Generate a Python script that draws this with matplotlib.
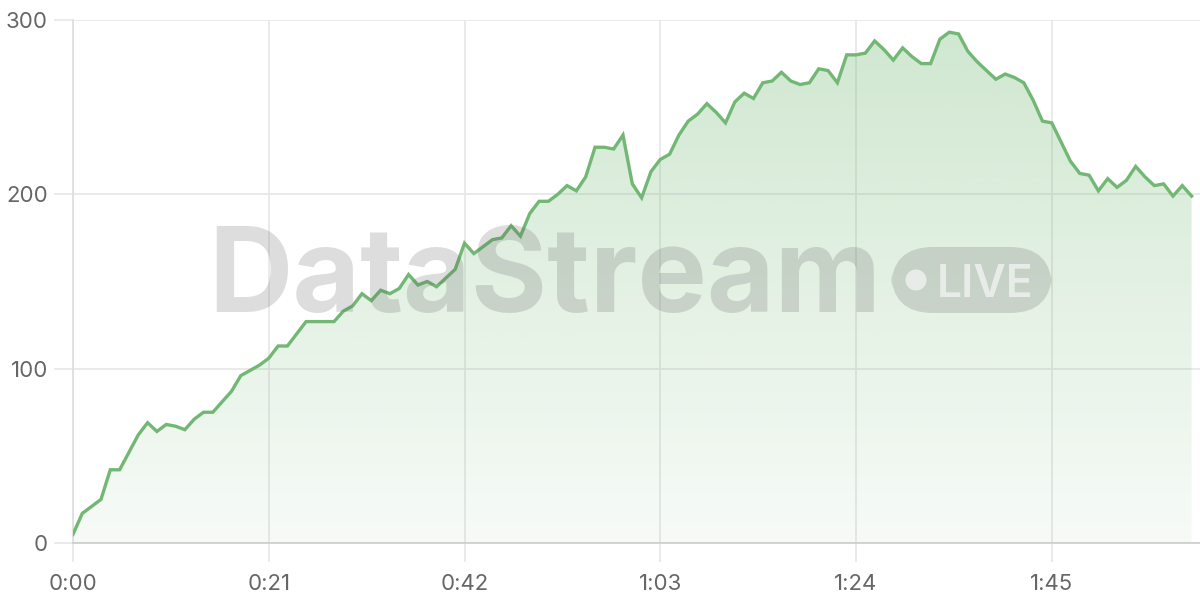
import numpy as np
import matplotlib
matplotlib.use('Agg')
import matplotlib.pyplot as plt
from matplotlib.patches import FancyBboxPatch, Ellipse
from matplotlib.ticker import FuncFormatter, FixedLocator

plt.rcParams['font.family'] = ['Inter', 'DejaVu Sans']

# seconds since start, one sample per second
seconds = np.arange(0, 121)
values = [
    5, 17, 21, 25, 42, 42, 52, 62, 69, 64,
    68, 67, 65, 71, 75, 75, 81, 87, 96, 99,
    102, 106, 113, 113, 120, 127, 127, 127, 127, 133,
    136, 143, 139, 145, 143, 146, 154, 148, 150, 147,
    152, 157, 172, 166, 170, 174, 175, 182, 176, 189,
    196, 196, 200, 205, 202, 210, 227, 227, 226, 234,
    206, 198, 213, 220, 223, 234, 242, 246, 252, 247,
    241, 253, 258, 255, 264, 265, 270, 265, 263, 264,
    272, 271, 264, 280, 280, 281, 288, 283, 277, 284,
    279, 275, 275, 289, 293, 292, 282, 276, 271, 266,
    269, 267, 264, 254, 242, 241, 230, 219, 212, 211,
    202, 209, 204, 208, 216, 210, 205, 206, 199, 205,
    199,
]
xticks = [0, 21, 42, 63, 84, 105]
yticks = [0, 100, 200, 300]

line_color = '#72b874'
grid_color = '#e6e6e6'
text_color = '#666666'

fig = plt.figure(figsize=(12, 6), dpi=100)
ax = fig.add_axes([73/1200, 57/600, 1127/1200, 523/600])
ax.set_xlim(0, 120.9)
ax.set_ylim(0, 300)

# gradient fill under the line
poly = ax.fill_between(seconds, values, 0, color='none', lw=0)
grad = np.linspace(0.06, 0.34, 256).reshape(-1, 1)
rgba = np.zeros((256, 1, 4))
rgba[..., 0] = 114/255
rgba[..., 1] = 184/255
rgba[..., 2] = 116/255
rgba[..., 3] = grad
img = ax.imshow(rgba, extent=[0, 120, 0, 300], origin='lower', aspect='auto', zorder=1)
img.set_clip_path(poly.get_paths()[0], transform=ax.transData)

ax.plot(seconds, values, color=line_color, lw=2.4, zorder=3, solid_joinstyle='miter')

ax.xaxis.set_major_locator(FixedLocator(xticks))
ax.yaxis.set_major_locator(FixedLocator(yticks))
ax.xaxis.set_major_formatter(FuncFormatter(lambda v, p: f'{int(v)//60}:{int(v)%60:02d}'))
ax.grid(True, color=grid_color, lw=1.2, zorder=0)
ax.set_axisbelow(True)
ax.tick_params(axis='both', length=14, width=1.2, color=grid_color, labelsize=16, labelcolor=text_color)
ax.tick_params(axis='x', pad=8)
ax.tick_params(axis='y', pad=4)
for s in ['top', 'right']:
    ax.spines[s].set_visible(False)
ax.spines['left'].set_color('#dddddd')
ax.spines['bottom'].set_color('#cccccc')
ax.spines['left'].set_linewidth(1.2)
ax.spines['bottom'].set_linewidth(1.2)

# watermark
wm = (0.35, 0.35, 0.35, 0.2)
fig.text(208/1200, 1 - 312/600, 'DataStream', fontsize=84, fontweight='bold',
         color=wm, ha='left', va='baseline', zorder=10)
pill = FancyBboxPatch((891/1200, 1 - 313/600), 161/1200, 66/600,
                      boxstyle='round,pad=0,rounding_size=0.035',
                      transform=fig.transFigure, facecolor=wm, edgecolor='none',
                      mutation_aspect=2, zorder=10)
fig.add_artist(pill)
fig.add_artist(Ellipse((916/1200, 1 - 280/600), 21/1200, 21/600, transform=fig.transFigure,
                       facecolor=(1, 1, 1, 0.6), edgecolor='none', zorder=11))
fig.text(937/1200, 1 - 297/600, 'LIVE', fontsize=32, fontweight='semibold',
         color=(1, 1, 1, 0.6), ha='left', va='baseline', zorder=11)

fig.savefig('out.png', dpi=100)
